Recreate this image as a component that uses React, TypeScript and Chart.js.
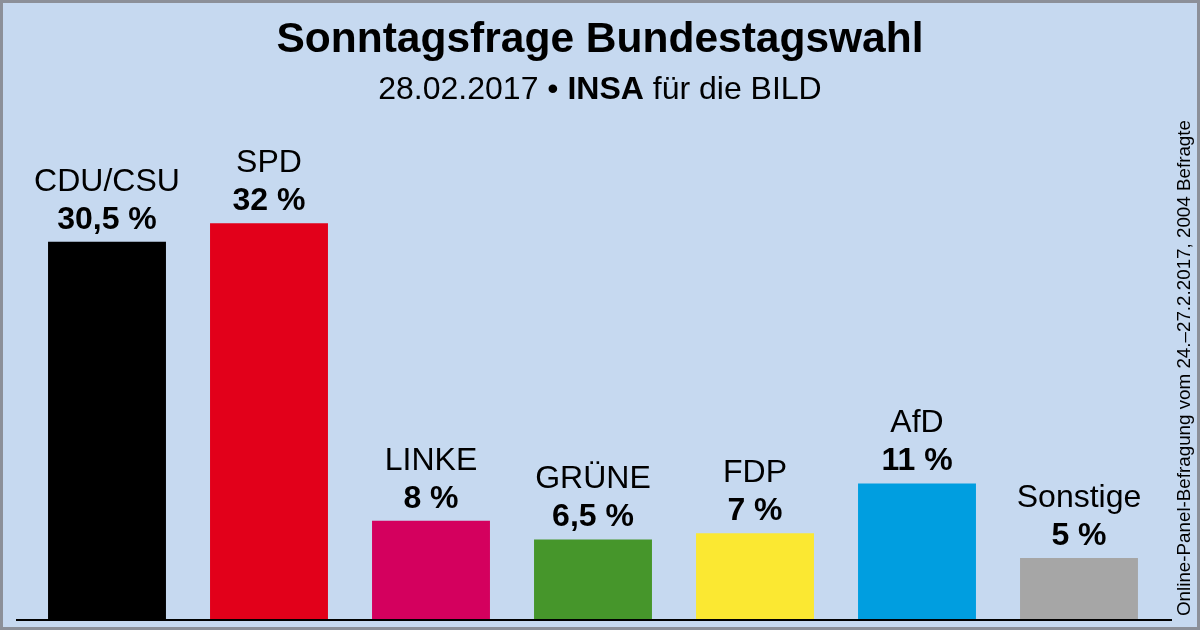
import React, { useEffect, useRef } from "react";
import { Chart, registerables } from "chart.js";
Chart.register(...registerables);

const parties = ["CDU/CSU", "SPD", "LINKE", "GRÜNE", "FDP", "AfD", "Sonstige"];
const values = [30.5, 32, 8, 6.5, 7, 11, 5];
const valueLabels = ["30,5 %", "32 %", "8 %", "6,5 %", "7 %", "11 %", "5 %"];
const colors = ["#000000", "#e2001a", "#d4005e", "#46962b", "#fbe832", "#009ee0", "#a6a6a6"];

const F = "'Liberation Sans', Arial, sans-serif";

const deco = {
  id: "deco",
  beforeDraw(c: any) {
    const ctx = c.ctx;
    ctx.save();
    ctx.fillStyle = "#c6d9f0";
    ctx.fillRect(0, 0, 1200, 630);
    ctx.strokeStyle = "#8c9099";
    ctx.lineWidth = 3;
    ctx.strokeRect(1.5, 1.5, 1197, 627);
    ctx.restore();
  },
  afterDatasetsDraw(c: any) {
    const ctx = c.ctx;
    const meta = c.getDatasetMeta(0);
    ctx.save();
    ctx.strokeStyle = "#000";
    ctx.lineWidth = 2;
    ctx.beginPath();
    ctx.moveTo(16, c.chartArea.bottom);
    ctx.lineTo(1172, c.chartArea.bottom);
    ctx.stroke();
    ctx.textAlign = "center";
    ctx.textBaseline = "middle";
    ctx.fillStyle = "#000";
    meta.data.forEach((b: any, i: number) => {
      ctx.font = `32px ${F}`;
      ctx.fillText(parties[i], b.x, b.y - 60);
      ctx.font = `bold 32px ${F}`;
      ctx.fillText(valueLabels[i], b.x, b.y - 22);
    });
    ctx.font = `bold 42.5px ${F}`;
    ctx.fillText("Sonntagsfrage Bundestagswahl", 600, 40);
    ctx.font = `32px ${F}`;
    const a = "28.02.2017 • ", bb = "INSA", cc = " für die BILD";
    const wa = ctx.measureText(a).width, wc = ctx.measureText(cc).width;
    ctx.font = `bold 32px ${F}`;
    const wb = ctx.measureText(bb).width;
    let x = 600 - (wa + wb + wc) / 2;
    ctx.textAlign = "left";
    ctx.font = `32px ${F}`;
    ctx.fillText(a, x, 90);
    ctx.font = `bold 32px ${F}`;
    ctx.fillText(bb, x + wa, 90);
    ctx.font = `32px ${F}`;
    ctx.fillText(cc, x + wa + wb, 90);
    ctx.translate(1185, 616);
    ctx.rotate(-Math.PI / 2);
    ctx.font = `18.8px ${F}`;
    ctx.textAlign = "left";
    ctx.fillText("Online-Panel-Befragung vom 24.–27.2.2017, 2004 Befragte", 0, 0);
    ctx.restore();
  },
};

export default function App() {
  const ref = useRef<HTMLCanvasElement>(null);
  useEffect(() => {
    document.body.style.margin = "0";
    const chart = new Chart(ref.current!, {
      type: "bar",
      data: {
        labels: parties,
        datasets: [{ data: values, backgroundColor: colors, barPercentage: 0.728, categoryPercentage: 1 }],
      },
      options: {
        animation: false,
        responsive: false,
        layout: { padding: { left: 26, right: 40, top: 150, bottom: 10 } },
        plugins: { legend: { display: false }, tooltip: { enabled: false } },
        scales: {
          x: { display: false },
          y: { display: false, min: 0, max: 37.9 },
        },
      },
      plugins: [deco],
    });
    return () => chart.destroy();
  }, []);
  return <canvas ref={ref} width={1200} height={630} style={{ display: "block" }} />;
}
